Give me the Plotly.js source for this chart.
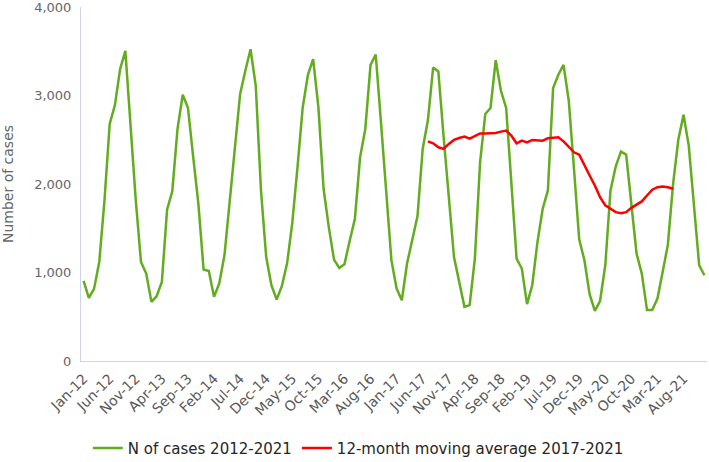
<!DOCTYPE html>
<html>
<head>
<meta charset="utf-8">
<script src="https://cdn.plot.ly/plotly-3.0.1.min.js"></script>
<style>html,body{margin:0;padding:0;background:#fff;}#chart{width:709px;height:462px;}</style>
</head>
<body>
<div id="chart"></div>
<script>
// Month names and years used to build category labels
var monthNames = ["Jan","Feb","Mar","Apr","May","Jun","Jul","Aug","Sep","Oct","Nov","Dec"];
var years = ["12","13","14","15","16","17","18","19","20","21"];

// Monthly number of cases 2012-2021
var cases2012 = [905, 713, 815, 1119, 1814, 2678, 2892, 3298, 3504, 2660, 1814, 1119];
var cases2013 = [988, 668, 732, 894, 1709, 1919, 2622, 3008, 2860, 2310, 1777, 1033];
var cases2014 = [1017, 725, 876, 1194, 1777, 2396, 3016, 3279, 3523, 3110, 1927, 1175];
var cases2015 = [856, 695, 845, 1100, 1560, 2189, 2865, 3234, 3410, 2873, 1946, 1513];
var cases2016 = [1146, 1051, 1093, 1356, 1608, 2302, 2622, 3346, 3462, 2700, 1930, 1140];
var cases2017 = [819, 687, 1101, 1363, 1634, 2396, 2723, 3316, 3271, 2540, 1850, 1175];
var cases2018 = [894, 612, 631, 1157, 2246, 2791, 2859, 3400, 3053, 2859, 2009, 1157];
var cases2019 = [1045, 642, 856, 1344, 1720, 1927, 3084, 3234, 3346, 2941, 2170, 1376];
var cases2020 = [1138, 755, 567, 678, 1082, 1927, 2197, 2366, 2332, 1772, 1213, 988];
var cases2021 = [575, 575, 706, 1006, 1315, 2000, 2500, 2783, 2434, 1758, 1082, 969];

// 12-month moving average, Jul-17 to Jun-21
var movingAvgStart = "Jul-17";
var movingAvg = [2482, 2460, 2415, 2396, 2453, 2498, 2520, 2535, 2513, 2543,
                 2572, 2572, 2572, 2576, 2592, 2603, 2546, 2460, 2490, 2471,
                 2498, 2498, 2490, 2516, 2520, 2527, 2482, 2415, 2358, 2332,
                 2208, 2096, 1983, 1851, 1758, 1720, 1682, 1671, 1682, 1731,
                 1765, 1803, 1870, 1935, 1964, 1972, 1964, 1946];

var yTickVals = [0, 1000, 2000, 3000, 4000];
var yTickText = ["0", "1,000", "2,000", "3,000", "4,000"];

var categories = [];
years.forEach(function(y){ monthNames.forEach(function(m){ categories.push(m + "-" + y); }); });
var cases = [].concat(cases2012, cases2013, cases2014, cases2015, cases2016,
                      cases2017, cases2018, cases2019, cases2020, cases2021);
var maStartIdx = categories.indexOf(movingAvgStart);
var maCats = categories.slice(maStartIdx, maStartIdx + movingAvg.length);
var xTickVals = categories.filter(function(c, i){ return i % 5 === 0; });

var traces = [
  {x: categories, y: cases, type: "scatter", mode: "lines", name: "N of cases 2012-2021",
   line: {color: "#64ac1f", width: 2.5}},
  {x: maCats, y: movingAvg, type: "scatter", mode: "lines", name: "12-month moving average 2017-2021",
   line: {color: "#ff0000", width: 2.5}}
];

var layout = {
  width: 709, height: 462,
  margin: {l: 81, r: 2, t: 7, b: 101, autoexpand: false},
  paper_bgcolor: "#ffffff", plot_bgcolor: "#ffffff",
  font: {family: "DejaVu Sans, sans-serif", color: "#595959", size: 12},
  showlegend: true,
  legend: {orientation: "h", x: 0.443, xanchor: "center", y: -0.2, yanchor: "top",
           font: {family: "DejaVu Sans, sans-serif", size: 15, color: "#262626"}, traceorder: "normal"},
  xaxis: {type: "category", categoryorder: "array", categoryarray: categories,
          range: [-0.5, categories.length - 0.5], automargin: false,
          tickmode: "array", tickvals: xTickVals, ticktext: xTickVals,
          tickangle: -45, tickfont: {size: 14, color: "#595959"},
          showgrid: false, zeroline: false, showline: true, linecolor: "#cdd5ec", linewidth: 1,
          ticks: "outside", ticklen: 3, tickcolor: "rgba(0,0,0,0)", fixedrange: true},
  yaxis: {range: [0, 4000], tickmode: "array", tickvals: yTickVals, ticktext: yTickText,
          tickfont: {size: 13, color: "#666666"}, automargin: true, ticklabeloverflow: "allow",
          showgrid: false, zeroline: false, showline: true, linecolor: "#cdd5ec", linewidth: 1,
          ticks: "outside", ticklen: 6, tickcolor: "rgba(0,0,0,0)",
          title: {text: "Number of cases", font: {size: 14, color: "#666666"}, standoff: 18}}
};

Plotly.newPlot("chart", traces, layout, {displayModeBar: false, staticPlot: true});
</script>
</body>
</html>
